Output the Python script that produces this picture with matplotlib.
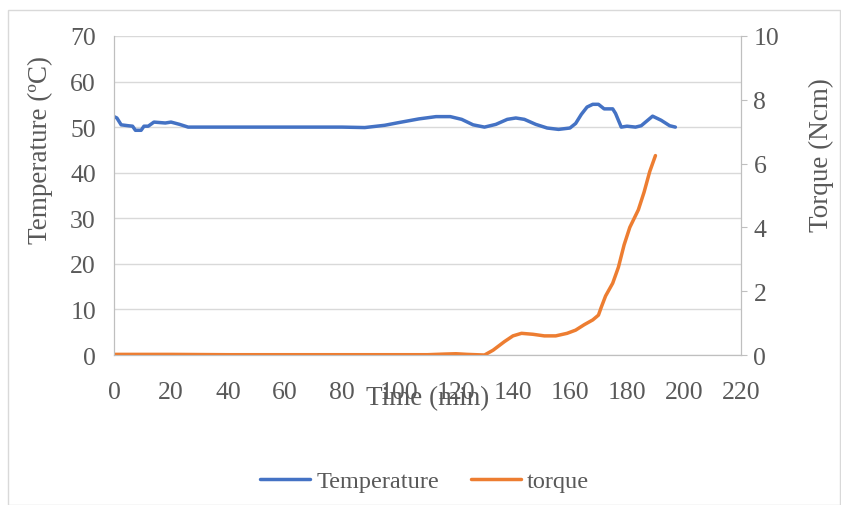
import matplotlib.pyplot as plt
from matplotlib.patches import Rectangle

plt.rcParams['font.family'] = ['Liberation Serif', 'DejaVu Serif']

# temperature readings (time in min, degC)
temp_time = [0, 1, 2.5, 5, 6.5, 7.5, 9.5, 10.5, 12, 14, 16, 18, 20, 23, 26, 30,
             40, 50, 60, 70, 80, 88, 95, 100, 107, 113, 118, 122, 126, 130,
             134, 138, 141, 144, 148, 152, 156, 160, 162, 164, 166, 168, 170,
             172, 175, 176, 178, 180, 183, 185, 189, 192, 195, 197]
temp_vals = [52.3, 52.0, 50.5, 50.3, 50.2, 49.3, 49.3, 50.2, 50.2, 51.1, 51.0,
             50.9, 51.1, 50.6, 50.0, 50.0, 50.0, 50.0, 50.0, 50.0, 50.0, 49.9,
             50.4, 51.0, 51.8, 52.3, 52.3, 51.7, 50.5, 50.0, 50.6, 51.7, 52.0,
             51.7, 50.6, 49.8, 49.5, 49.8, 50.8, 52.8, 54.4, 55.0, 55.0, 54.0,
             54.0, 53.0, 50.0, 50.2, 50.0, 50.3, 52.4, 51.5, 50.3, 50.0]

# torque readings (time in min, Ncm)
torque_time = [0, 20, 40, 60, 80, 100, 110, 116, 120, 124, 130, 133, 137, 140,
               143, 147, 151, 155, 159, 162, 165, 168, 170, 171, 172.5, 175,
               177, 179, 181, 184, 186, 188, 190]
torque_vals = [0.02, 0.02, 0.01, 0.01, 0.01, 0.01, 0.01, 0.03, 0.04, 0.02, 0.0,
               0.15, 0.42, 0.6, 0.68, 0.65, 0.6, 0.6, 0.68, 0.78, 0.95, 1.1,
               1.25, 1.5, 1.85, 2.25, 2.75, 3.45, 4.0, 4.55, 5.1, 5.75, 6.25]

grey = '#595959'
fig = plt.figure(figsize=(8.41, 5.06), dpi=100)
ax = fig.add_axes([0.1356, 0.2964, 0.7454, 0.6306])
ax2 = ax.twinx()

l1, = ax.plot(temp_time, temp_vals, color='#4472C4', lw=2.5,
              solid_joinstyle='round', solid_capstyle='round', label='Temperature')
l2, = ax2.plot(torque_time, torque_vals, color='#ED7D31', lw=2.5,
               solid_joinstyle='round', solid_capstyle='round', label='torque')

ax.set_xlim(0, 220)
ax.set_ylim(0, 70)
ax2.set_ylim(0, 10)
ax.set_xticks(range(0, 221, 20))
ax.set_yticks(range(0, 71, 10))
ax2.set_yticks(range(0, 11, 2))
ax.yaxis.grid(True, color='#d9d9d9', lw=1)
ax.set_axisbelow(True)

for a in (ax, ax2):
    for s in a.spines.values():
        s.set_color('#bfbfbf')
    a.spines['top'].set_visible(False)
    a.tick_params(length=0, labelsize=18.5, colors=grey)
ax.tick_params(axis='x', pad=19)
ax.tick_params(axis='y', pad=13)
ax2.tick_params(axis='y', length=4, direction='out', color='#bfbfbf',
                labelcolor=grey, pad=5)

ax.set_xlabel('Time (min)', fontsize=19.5, color=grey, labelpad=-13)
ax.set_ylabel('Temperature (ºC)', fontsize=19.5, color=grey)
ax2.set_ylabel('Torque (Ncm)', fontsize=19.5, color=grey)
ax.yaxis.set_label_coords(-0.098, 0.646)
ax2.yaxis.set_label_coords(1.108, 0.63)

fig.legend(handles=[l1, l2], loc='center', bbox_to_anchor=(0.505, 0.047),
           ncol=2, frameon=False, fontsize=17.5, handlelength=2.06,
           handletextpad=0.25, columnspacing=1.3, labelcolor=grey)

fig.patches.append(Rectangle((0.009, 0), 0.99, 0.979, transform=fig.transFigure,
                             fill=False, edgecolor='#d9d9d9', lw=1))

fig.savefig('out.png', dpi=100)
